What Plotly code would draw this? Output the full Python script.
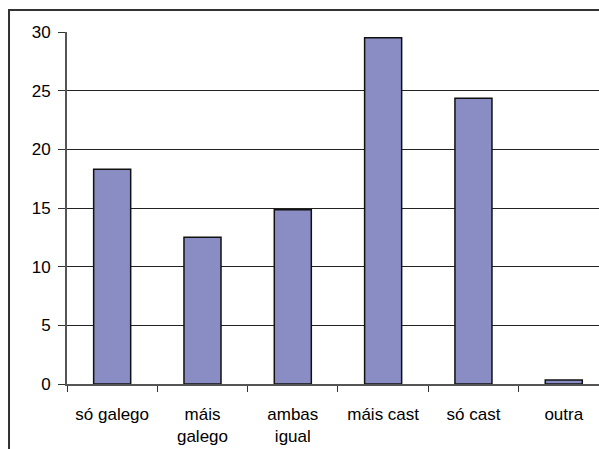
import plotly.graph_objects as go

categories = ["só galego", "máis<br>galego", "ambas<br>igual", "máis cast", "só cast", "outra"]
values = [18.3, 12.5, 14.85, 29.5, 24.35, 0.35]

fig = go.Figure()

fig.add_trace(
    go.Bar(
        x=categories,
        y=values,
        marker=dict(color="#8A8CC4", line=dict(color="#111111", width=1.5)),
        hoverinfo="skip",
    )
)

# outer chart frame (cut off on the right and bottom, as in the original)
fig.add_shape(
    type="rect", xref="paper", yref="paper",
    x0=-0.109, x1=1.1, y0=-0.5, y1=1.0625,
    line=dict(color="#333333", width=2),
)

fig.update_xaxes(
    type="category",
    range=[-0.5, 5.39],
    tickson="boundaries",
    ticks="outside", ticklen=6, tickcolor="#333333", tickwidth=1,
    showline=True, linecolor="#555555", linewidth=1.5,
    showgrid=False,
    ticklabelstandoff=14,
    tickfont=dict(family="Liberation Sans, Arial", size=17, color="#000000"),
)
fig.update_yaxes(
    range=[0, 30], dtick=5,
    ticks="outside", ticklen=7, tickcolor="#333333", tickwidth=1,
    showline=True, linecolor="#555555", linewidth=2,
    showgrid=True, gridcolor="#222222", gridwidth=1,
    zeroline=False,
    ticklabelstandoff=4,
    tickfont=dict(family="Liberation Sans, Arial", size=17, color="#000000"),
)

fig.update_layout(
    width=599, height=449,
    margin=dict(l=67, r=0, t=32, b=65),
    paper_bgcolor="white", plot_bgcolor="white",
    bargap=0.59,
    showlegend=False,
)

fig.write_html(
    "out.html",
    config={"displayModeBar": False},
    post_script="document.body.style.margin='0';",
)
